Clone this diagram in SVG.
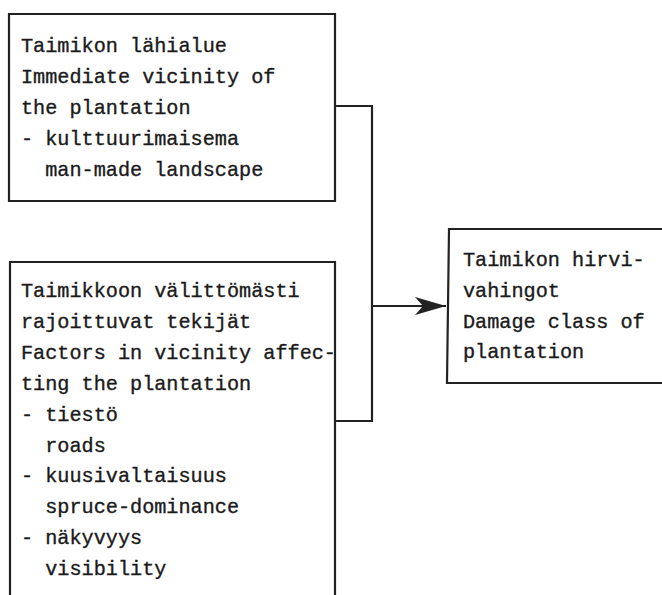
<svg xmlns="http://www.w3.org/2000/svg" width="662" height="595" viewBox="0 0 662 595">
<style>
  .box{fill:none;stroke:#222;stroke-width:2.2;}
  .t{font-family:"Liberation Mono","Courier New",monospace;font-size:20.2px;fill:#1a1a1a;stroke:#1a1a1a;stroke-width:0.35;white-space:pre;}
  .c{fill:none;stroke:#222;stroke-width:2.2;}
</style>
<defs>
  <marker id="arr" markerUnits="userSpaceOnUse" markerWidth="34" markerHeight="20" refX="31" refY="9" orient="auto">
    <path d="M0,0 L31,9 L0,18 L8,9 Z" fill="#222"/>
  </marker>
</defs>
<rect width="662" height="595" fill="#fff"/>
<g id="node-vicinity">
  <path class="box" d="M9,14 H335 V201 H9 Z"/>
  <text class="t" x="21" y="52">Taimikon lähialue</text>
  <text class="t" x="21" y="83">Immediate vicinity of</text>
  <text class="t" x="21" y="114">the plantation</text>
  <text class="t" x="21" y="145">- kulttuurimaisema</text>
  <text class="t" x="21" y="176">  man-made landscape</text>
</g>
<g id="node-factors">
  <path class="box" d="M10,600 V262 H335 V600"/>
  <text class="t" x="21" y="297">Taimikkoon välittömästi</text>
  <text class="t" x="21" y="328">rajoittuvat tekijät</text>
  <text class="t" x="21" y="359">Factors in vicinity affec-</text>
  <text class="t" x="21" y="390">ting the plantation</text>
  <text class="t" x="21" y="421">- tiestö</text>
  <text class="t" x="21" y="452">  roads</text>
  <text class="t" x="21" y="482">- kuusivaltaisuus</text>
  <text class="t" x="21" y="513">  spruce-dominance</text>
  <text class="t" x="21" y="544">- näkyvyys</text>
  <text class="t" x="21" y="575">  visibility</text>
</g>
<g id="node-damage">
  <path class="box" d="M670,229 H449 L447,383 H670"/>
  <text class="t" x="463" y="266">Taimikon hirvi-</text>
  <text class="t" x="463" y="297">vahingot</text>
  <text class="t" x="463" y="328">Damage class of</text>
  <text class="t" x="463" y="358">plantation</text>
</g>
<g id="connectors">
  <path class="c" d="M335,106 H372 V421 H335"/>
  <path class="c" d="M372,306 H446" marker-end="url(#arr)"/>
</g>
</svg>
